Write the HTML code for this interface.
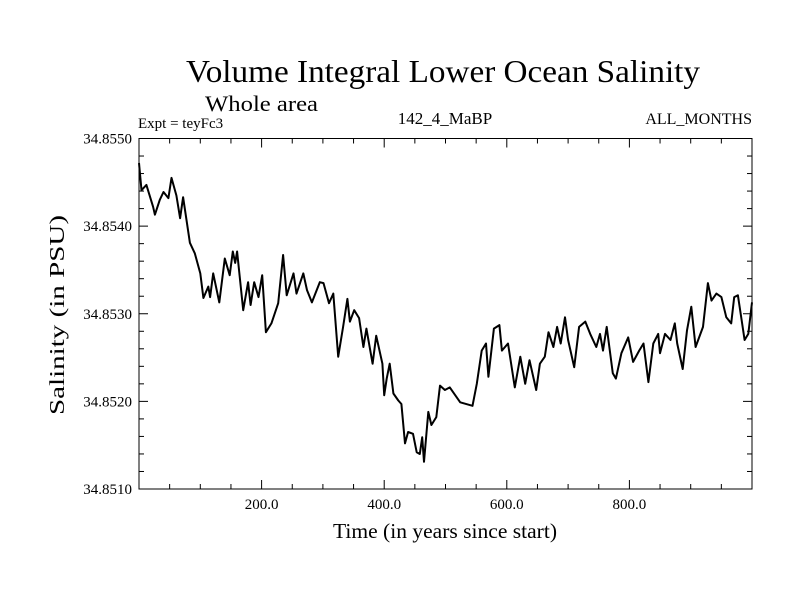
<!DOCTYPE html>
<html><head><meta charset="utf-8"><style>
body{margin:0;background:#fff;}
svg{display:block;font-family:"Liberation Serif",serif;}
</style></head><body>
<svg id="chart" width="800" height="600" viewBox="0 0 800 600">
<rect width="800" height="600" fill="#fff"/>
<text x="186" y="82" font-size="32" textLength="514" lengthAdjust="spacingAndGlyphs">Volume Integral Lower Ocean Salinity</text>
<text x="205" y="111" font-size="22" textLength="113" lengthAdjust="spacingAndGlyphs">Whole area</text>
<text x="138" y="128" font-size="15">Expt = teyFc3</text>
<text x="445" y="124" font-size="17" text-anchor="middle">142_4_MaBP</text>
<text x="752" y="124" font-size="16" text-anchor="end">ALL_MONTHS</text>
<text x="333" y="538" font-size="21" textLength="224" lengthAdjust="spacingAndGlyphs">Time (in years since start)</text>
<text transform="translate(64,415) rotate(-90)" font-size="21" textLength="200" lengthAdjust="spacingAndGlyphs">Salinity (in PSU)</text>
<g id="axes"></g>
<path id="series" fill="none" stroke="#000" stroke-width="2" stroke-linejoin="round"/>
<rect x="139" y="138.5" width="613" height="350.5" fill="none" stroke="#000" stroke-width="1"/>
</svg>
<script>
const years=[0,4,12,23,26,34,40,48,53,61,67,72,83,91,100,105,113,116,121,131,140,148,153,157,160,170,178,182,188,195,201,207,216,227,235,241,252,257,268,274,282,295,301,310,317,325,333,340,344,351,359,366,371,381,387,397,400,404,409,415,423,428,434,439,447,453,458,462,465,472,477,485,491,499,507,524,544,551,559,566,570,579,588,592,602,613,622,630,637,648,654,662,668,676,682,688,695,700,710,718,728,736,746,752,757,763,773,778,787,798,806,816,823,831,839,847,850,858,867,874,878,887,894,901,908,920,928,934,942,950,958,966,971,977,983,988,994,1000];
const salinity=[34.85472,34.85441,34.85447,34.85422,34.85413,34.85430,34.85439,34.85432,34.85455,34.85435,34.85409,34.85433,34.85381,34.85369,34.85346,34.85318,34.85331,34.85319,34.85346,34.85313,34.85363,34.85344,34.85371,34.85358,34.85371,34.85304,34.85336,34.85310,34.85336,34.85319,34.85344,34.85279,34.85289,34.85312,34.85367,34.85321,34.85346,34.85323,34.85346,34.85327,34.85313,34.85336,34.85335,34.85312,34.85323,34.85251,34.85285,34.85317,34.85291,34.85304,34.85295,34.85262,34.85283,34.85243,34.85275,34.85243,34.85207,34.85226,34.85243,34.85209,34.85201,34.85197,34.85152,34.85165,34.85163,34.85142,34.85140,34.85159,34.85131,34.85188,34.85173,34.85182,34.85218,34.85213,34.85216,34.85199,34.85195,34.85220,34.85258,34.85266,34.85228,34.85283,34.85287,34.85258,34.85266,34.85216,34.85251,34.85220,34.85247,34.85213,34.85243,34.85251,34.85279,34.85262,34.85285,34.85266,34.85296,34.85270,34.85239,34.85285,34.85291,34.85277,34.85262,34.85277,34.85258,34.85285,34.85232,34.85226,34.85255,34.85273,34.85245,34.85258,34.85266,34.85222,34.85266,34.85277,34.85255,34.85277,34.85270,34.85289,34.85266,34.85237,34.85281,34.85308,34.85262,34.85285,34.85335,34.85315,34.85323,34.85319,34.85296,34.85289,34.85319,34.85321,34.85293,34.85270,34.85277,34.85313];
const xTicks=[200,400,600,800];
const xTickLabels=["200.0","400.0","600.0","800.0"];
const yTicks=[34.851,34.852,34.853,34.854,34.855];
const yTickLabels=["34.8510","34.8520","34.8530","34.8540","34.8550"];
const X0=139,X1=752,Y0=489,Y1=138.5,xMin=0,xMax=1000,yMin=34.851,yMax=34.855;
const sx=v=>X0+(v-xMin)/(xMax-xMin)*(X1-X0);
const sy=v=>Y0-(v-yMin)/(yMax-yMin)*(Y0-Y1);
const NS='http://www.w3.org/2000/svg';
const axes=document.getElementById('axes');
function ln(x1,y1,x2,y2){const l=document.createElementNS(NS,'line');l.setAttribute('x1',x1);l.setAttribute('y1',y1);l.setAttribute('x2',x2);l.setAttribute('y2',y2);l.setAttribute('stroke','#000');l.setAttribute('stroke-width','1');


axes.appendChild(l);}
for(let v=0;v<=1000;v+=50){const x=sx(v);const len=(v%200===0)?9:5;ln(x,Y0,x,Y0-len);ln(x,Y1,x,Y1+len);}
for(let i=0;i<=20;i++){const v=yMin+i*0.0002;const y=sy(v);const len=(i%5===0)?9:5;ln(X0,y,X0+len,y);ln(X1,y,X1-len,y);}
xTicks.forEach((v,i)=>{const t=document.createElementNS(NS,'text');t.setAttribute('x',sx(v));t.setAttribute('y',509);t.setAttribute('font-size','15');t.setAttribute('text-anchor','middle');t.textContent=xTickLabels[i];


axes.appendChild(t);});
yTicks.forEach((v,i)=>{const t=document.createElementNS(NS,'text');t.setAttribute('x',132);t.setAttribute('y',sy(v)+5);t.setAttribute('font-size','15');t.setAttribute('text-anchor','end');t.textContent=yTickLabels[i];


axes.appendChild(t);});
document.getElementById('series').setAttribute('d',years.map((yr,i)=>(i?'L':'M')+sx(yr).toFixed(1)+','+sy(salinity[i]).toFixed(1)).join(''));
</script>
</body></html>
